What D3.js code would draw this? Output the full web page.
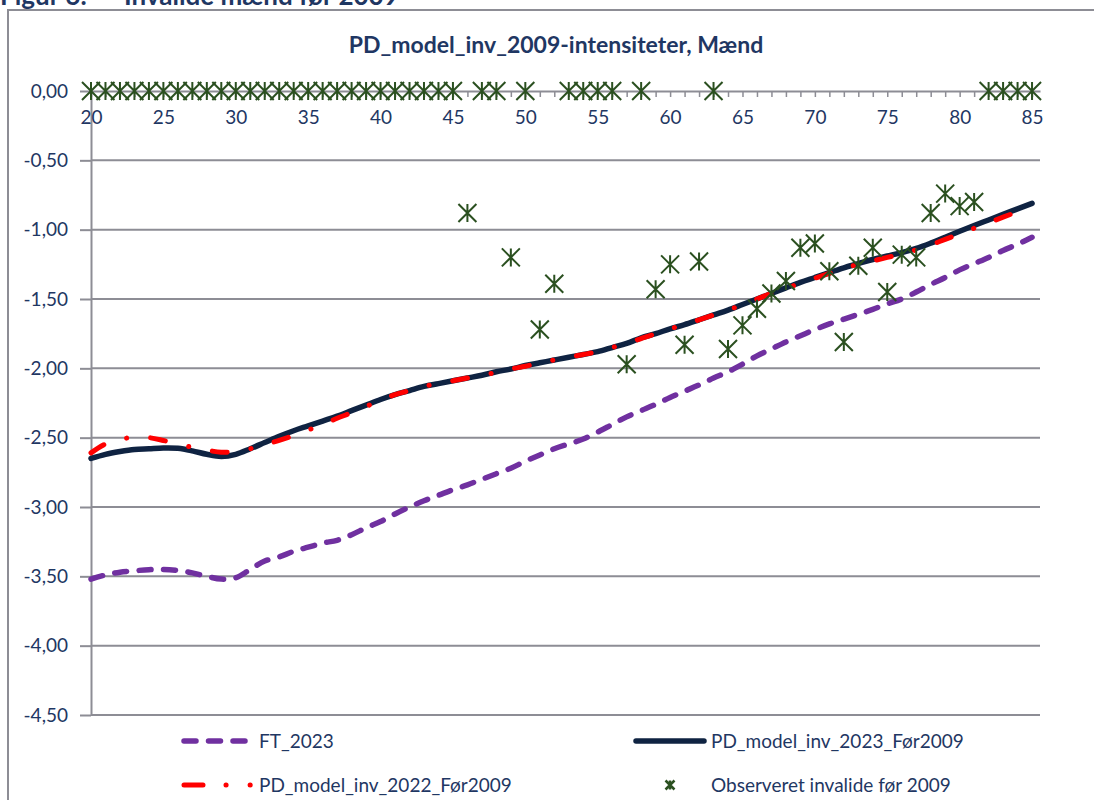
<!DOCTYPE html>
<html>
<head>
<meta charset="utf-8">
<script src="https://cdn.jsdelivr.net/npm/d3@7"></script>
<style>
  body { margin: 0; background: #fff; }
  svg { display: block; font-family: Lato, "Open Sans", sans-serif; }
</style>
</head>
<body>
<svg id="chart" width="1094" height="800"></svg>
<script>
// ages on the x axis
var ages = d3.range(20, 86);

// FT_2023 (purple dashed)
var ft2023 = [-3.52, -3.49, -3.47, -3.46, -3.452, -3.45, -3.458, -3.475, -3.50, -3.52,
  -3.51, -3.45, -3.39, -3.36, -3.32, -3.29, -3.26, -3.24, -3.20, -3.15,
  -3.105, -3.05, -3.00, -2.955, -2.915, -2.875, -2.84, -2.80, -2.76, -2.72,
  -2.67, -2.625, -2.58, -2.545, -2.51, -2.46, -2.405, -2.35, -2.305, -2.26,
  -2.21, -2.165, -2.12, -2.07, -2.025, -1.97, -1.91, -1.86, -1.81, -1.765,
  -1.72, -1.68, -1.645, -1.61, -1.575, -1.535, -1.50, -1.45, -1.395, -1.345,
  -1.29, -1.245, -1.20, -1.15, -1.105, -1.055];

// PD_model_inv_2023_Før2009 (navy solid)
var pd2023 = [-2.65, -2.62, -2.60, -2.585, -2.58, -2.575, -2.577, -2.595, -2.62, -2.635,
  -2.62, -2.58, -2.535, -2.49, -2.45, -2.415, -2.38, -2.345, -2.305, -2.265,
  -2.225, -2.19, -2.16, -2.13, -2.11, -2.09, -2.07, -2.05, -2.025, -2.005,
  -1.98, -1.96, -1.94, -1.92, -1.90, -1.88, -1.85, -1.82, -1.78, -1.75,
  -1.715, -1.685, -1.65, -1.615, -1.58, -1.54, -1.50, -1.46, -1.42, -1.38,
  -1.345, -1.31, -1.275, -1.245, -1.215, -1.19, -1.165, -1.135, -1.097, -1.055,
  -1.012, -0.97, -0.93, -0.89, -0.85, -0.81];

// PD_model_inv_2022_Før2009 (red dash-dot)
var pd2022 = [-2.61, -2.545, -2.51, -2.50, -2.50, -2.52, -2.545, -2.57, -2.59, -2.605,
  -2.60, -2.58, -2.55, -2.52, -2.485, -2.445, -2.405, -2.36, -2.32, -2.275,
  -2.23, -2.19, -2.16, -2.13, -2.11, -2.09, -2.07, -2.05, -2.03, -2.005,
  -1.985, -1.96, -1.94, -1.92, -1.90, -1.88, -1.85, -1.82, -1.785, -1.75,
  -1.715, -1.685, -1.65, -1.615, -1.58, -1.54, -1.50, -1.46, -1.425, -1.385,
  -1.35, -1.315, -1.28, -1.25, -1.225, -1.20, -1.175, -1.145, -1.11, -1.07,
  -1.03, -0.99, -0.95, -0.91, -0.87, -0.83];

// Observeret invalide før 2009 (stars)
var observed = [0, 0, 0, 0, 0, 0, 0, 0, 0, 0,
  0, 0, 0, 0, 0, 0, 0, 0, 0, 0,
  0, 0, 0, 0, 0, 0, -0.88, 0, 0, -1.20,
  0, -1.72, -1.39, 0, 0, 0, 0, -1.97, 0, -1.43,
  -1.25, -1.83, -1.23, 0, -1.86, -1.69, -1.57, -1.46, -1.37, -1.13,
  -1.10, -1.30, -1.81, -1.26, -1.13, -1.45, -1.18, -1.20, -0.88, -0.74,
  -0.83, -0.80, 0, 0, 0, 0];

var yTicks = [0, -0.5, -1, -1.5, -2, -2.5, -3, -3.5, -4, -4.5];
var xLabelEvery = 5;

var chartTitle = "PD_model_inv_2009-intensiteter, Mænd";
var figCaption = "Figur 6:";
var figCaption2 = "Invalide mænd før 2009";

var seriesNames = ["FT_2023", "PD_model_inv_2023_Før2009", "PD_model_inv_2022_Før2009", "Observeret invalide før 2009"];

var textCol = "#1f3763";
var gridCol = "#8d8d95";
var purple = "#7030a0";
var navy = "#0f2342";
var red = "#ff0000";
var green = "#2b5020";

var svg = d3.select("#chart");
svg.append("rect").attr("width", 1094).attr("height", 800).attr("fill", "#fff");

var dk = d3.formatLocale({ decimal: ",", thousands: ".", grouping: [3], currency: ["", ""], minus: "-" });
var fmt = dk.format(".2f");

var x = d3.scaleLinear().domain([20, 85.55]).range([91, 1040]);
var y = d3.scaleLinear().domain([-4.5, 0]).range([715, 91]);

// caption (cut at top, as in the page it came from) and frame
svg.append("text").attr("x", 0).attr("y", 5)
  .attr("font-size", 26).attr("font-weight", "bold").attr("fill", textCol)
  .text(figCaption);
svg.append("text").attr("x", 124).attr("y", 5)
  .attr("font-size", 26).attr("font-weight", "bold").attr("fill", textCol)
  .text(figCaption2);
svg.append("path").attr("d", "M8,805V10H1100")
  .attr("fill", "none").attr("stroke", gridCol).attr("stroke-width", 2);

// title
svg.append("text").attr("x", 556).attr("y", 53).attr("text-anchor", "middle")
  .attr("font-size", 23).attr("font-weight", "bold").attr("fill", textCol)
  .text(chartTitle);

// gridlines
svg.append("g").selectAll("line").data(yTicks.filter(function(d) { return d !== 0; }))
  .join("line")
  .attr("x1", x.range()[0]).attr("x2", x.range()[1])
  .attr("y1", function(d) { return y(d); }).attr("y2", function(d) { return y(d); })
  .attr("stroke", gridCol).attr("stroke-width", 2);

// y axis
var yAxis = svg.append("g").attr("transform", "translate(91,0)")
  .call(d3.axisLeft(y).tickValues(yTicks).tickSize(11).tickSizeOuter(0).tickPadding(12).tickFormat(fmt));
yAxis.select(".domain").attr("stroke", gridCol).attr("stroke-width", 2);
yAxis.selectAll(".tick line").attr("stroke", gridCol).attr("stroke-width", 2);
yAxis.selectAll("text").attr("font-size", 19).attr("fill", textCol).attr("font-family", "Lato, sans-serif");

// x axis at y = 0
var xAxis = svg.append("g").attr("transform", "translate(0," + y(0) + ")")
  .call(d3.axisBottom(x).tickValues(ages).tickSize(6).tickSizeOuter(0).tickPadding(14)
    .tickFormat(function(d) { return d % xLabelEvery === 0 ? d : ""; }));
xAxis.select(".domain").attr("stroke", gridCol).attr("stroke-width", 2);
xAxis.selectAll(".tick line").attr("stroke", gridCol).attr("stroke-width", 1.5);
xAxis.selectAll("text").attr("font-size", 19).attr("fill", textCol).attr("font-family", "Lato, sans-serif");

// lines
var line = d3.line()
  .x(function(d) { return x(d[0]); })
  .y(function(d) { return y(d[1]); })
  .curve(d3.curveCatmullRom.alpha(0.5));

function pairs(vals) { return ages.map(function(a, i) { return [a, vals[i]]; }); }

svg.append("path").datum(pairs(ft2023)).attr("d", line)
  .attr("fill", "none").attr("stroke", purple).attr("stroke-width", 5.5)
  .attr("stroke-dasharray", "12 12.5").attr("stroke-linecap", "round");

svg.append("path").datum(pairs(pd2023)).attr("d", line)
  .attr("fill", "none").attr("stroke", navy).attr("stroke-width", 5.5)
  .attr("stroke-linecap", "round");

svg.append("path").datum(pairs(pd2022)).attr("d", line)
  .attr("fill", "none").attr("stroke", red).attr("stroke-width", 5)
  .attr("stroke-dasharray", "15 24 0.1 24").attr("stroke-linecap", "round");

// star marker: X plus a vertical bar
function star(r) {
  return "M0," + (-r) + "V" + r + "M" + (-r) + "," + (-r) + "L" + r + "," + r + "M" + (-r) + "," + r + "L" + r + "," + (-r);
}

svg.append("g").selectAll("path").data(pairs(observed)).join("path")
  .attr("transform", function(d) { return "translate(" + x(d[0]) + "," + y(d[1]) + ")"; })
  .attr("d", star(9))
  .attr("fill", "none").attr("stroke", green).attr("stroke-width", 2);

// legend
var lg = svg.append("g").attr("font-size", 19).attr("fill", textCol);
var row1 = 741, row2 = 785;

lg.append("line").attr("x1", 184).attr("x2", 246).attr("y1", row1).attr("y2", row1)
  .attr("stroke", purple).attr("stroke-width", 5.5).attr("stroke-dasharray", "12 12.5").attr("stroke-linecap", "round");
lg.append("text").attr("x", 259).attr("y", row1).attr("dy", "0.35em").text(seriesNames[0]);

lg.append("line").attr("x1", 636).attr("x2", 704).attr("y1", row1).attr("y2", row1)
  .attr("stroke", navy).attr("stroke-width", 5.5).attr("stroke-linecap", "round");
lg.append("text").attr("x", 711).attr("y", row1).attr("dy", "0.35em").text(seriesNames[1]);

lg.append("line").attr("x1", 184).attr("x2", 252).attr("y1", row2).attr("y2", row2)
  .attr("stroke", red).attr("stroke-width", 5).attr("stroke-dasharray", "19 23 0.1 24 0.1 40").attr("stroke-linecap", "round");
lg.append("text").attr("x", 259).attr("y", row2).attr("dy", "0.35em").text(seriesNames[2]);

lg.append("path").attr("transform", "translate(670," + row2 + ")").attr("d", star(4.5))
  .attr("fill", "none").attr("stroke", green).attr("stroke-width", 2.5);
lg.append("text").attr("x", 711).attr("y", row2).attr("dy", "0.35em").text(seriesNames[3]);
</script>
</body>
</html>
